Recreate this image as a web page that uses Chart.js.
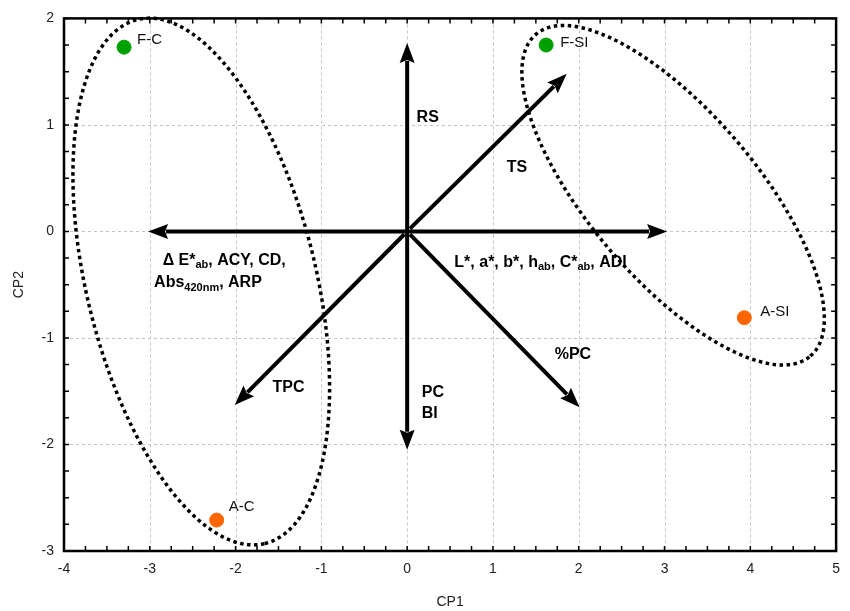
<!DOCTYPE html>
<html>
<head>
<meta charset="utf-8">
<script src="https://cdn.jsdelivr.net/npm/chart.js@4/dist/chart.umd.min.js"></script>
<style>
  html, body { margin: 0; padding: 0; background: #fff; }
  #wrap { width: 850px; height: 611px; }
</style>
</head>
<body>
<div id="wrap"><canvas id="pca"></canvas></div>
<script>
// sample scores on CP1 / CP2
var sampleNames = ['F-C', 'F-SI', 'A-SI', 'A-C'];
var cp1Scores = [-3.30, 1.62, 3.93, -2.22];
var cp2Scores = [1.73, 1.75, -0.81, -2.71];
var sampleColors = ['#00a000', '#00a000', '#ff6600', '#ff6600'];

// loading vectors (arrow tips, from the origin)
var loadCP1 = [0, 1.86, 3.03, 2.01, 0, -2.01, -3.02];
var loadCP2 = [1.77, 1.48, 0, -1.65, -2.05, -1.63, 0];

// axis ticks
var xTicks = [-4, -3, -2, -1, 0, 1, 2, 3, 4, 5];
var yTicks = [-3, -2, -1, 0, 1, 2];

// variable labels, placed in data units ([text, isSubscript])
var varLabels = [
  { x: 0.11, y: 1.07, parts: [['RS']] },
  { x: 1.16, y: 0.60, parts: [['TS']] },
  { x: -2.85, y: -0.27, parts: [['\u0394 E*'], ['ab', 1], [', ACY, CD,']] },
  { x: -2.95, y: -0.48, parts: [['Abs'], ['420nm', 1], [', ARP']] },
  { x: 0.55, y: -0.29, parts: [['L*, a*, b*, h'], ['ab', 1], [', C*'], ['ab', 1], [', ADI']] },
  { x: 1.72, y: -1.16, parts: [['%PC']] },
  { x: -1.57, y: -1.47, parts: [['TPC']] },
  { x: 0.17, y: -1.51, parts: [['PC']] },
  { x: 0.17, y: -1.71, parts: [['BI']] }
];

// group ellipses: centre and two semi-axis vectors, data units
var groupEllipses = [
  { cx: -2.40, cy: -0.47, ax: 0.74, ay: -2.46, bx: 1.30, by: 0.25 },
  { cx: 3.10, cy: 0.34, ax: 1.60, ay: -1.51, bx: 0.74, by: 0.51 }
];

var labelOffsets = [[13, -7], [14, -2], [16, -6], [12, -13]];

var plotPlugin = {
  id: 'pcaDecor',
  beforeDatasetsDraw: function(chart) {
    var ctx = chart.ctx, xs = chart.scales.x, ys = chart.scales.y;
    var a = chart.chartArea;
    ctx.save();
    // dashed grid
    ctx.strokeStyle = '#c4c4c4';
    ctx.lineWidth = 1;
    ctx.setLineDash([3, 3]);
    xTicks.forEach(function(v) {
      var px = Math.round(xs.getPixelForValue(v)) + 0.5;
      ctx.beginPath(); ctx.moveTo(px, a.top); ctx.lineTo(px, a.bottom); ctx.stroke();
    });
    yTicks.forEach(function(v) {
      var py = Math.round(ys.getPixelForValue(v)) + 0.5;
      ctx.beginPath(); ctx.moveTo(a.left, py); ctx.lineTo(a.right, py); ctx.stroke();
    });

    // dotted ellipses
    ctx.strokeStyle = '#000';
    ctx.lineWidth = 3.5;
    ctx.setLineDash([3.5, 3.5]);
    groupEllipses.forEach(function(e) {
      ctx.beginPath();
      for (var i = 0; i <= 360; i++) {
        var t = i * Math.PI / 180;
        var px = xs.getPixelForValue(e.cx + e.ax * Math.cos(t) + e.bx * Math.sin(t));
        var py = ys.getPixelForValue(e.cy + e.ay * Math.cos(t) + e.by * Math.sin(t));
        if (i === 0) ctx.moveTo(px, py); else ctx.lineTo(px, py);
      }
      ctx.stroke();
    });

    // loading arrows
    ctx.setLineDash([]);
    ctx.fillStyle = '#000';
    var ox = xs.getPixelForValue(0), oy = ys.getPixelForValue(0);
    for (var k = 0; k < loadCP1.length; k++) {
      var tx = xs.getPixelForValue(loadCP1[k]), ty = ys.getPixelForValue(loadCP2[k]);
      var ang = Math.atan2(ty - oy, tx - ox);
      var hl = 20, hw = 7.5;
      var gap = (loadCP1[k] !== 0 && loadCP2[k] !== 0) ? 4 : 0;
      var sx = ox + gap * Math.cos(ang), sy = oy + gap * Math.sin(ang);
      var bx = tx - hl * Math.cos(ang), by = ty - hl * Math.sin(ang);
      ctx.lineWidth = 4;
      ctx.beginPath(); ctx.moveTo(sx, sy); ctx.lineTo(bx + 2 * Math.cos(ang), by + 2 * Math.sin(ang)); ctx.stroke();
      ctx.beginPath();
      ctx.moveTo(tx, ty);
      ctx.lineTo(bx - hw * Math.sin(ang), by + hw * Math.cos(ang));
      ctx.lineTo(tx - (hl - 3) * Math.cos(ang), ty - (hl - 3) * Math.sin(ang));
      ctx.lineTo(bx + hw * Math.sin(ang), by - hw * Math.cos(ang));
      ctx.closePath();
      ctx.fill();
    }

    // variable labels
    ctx.textBaseline = 'middle';
    ctx.textAlign = 'left';
    varLabels.forEach(function(l) {
      var px = xs.getPixelForValue(l.x), py = ys.getPixelForValue(l.y);
      l.parts.forEach(function(p) {
        if (p[1]) {
          ctx.font = 'bold 11px "Liberation Sans", Arial, sans-serif';
          ctx.fillText(p[0], px, py + 5);
        } else {
          ctx.font = 'bold 16px "Liberation Sans", Arial, sans-serif';
          ctx.fillText(p[0], px, py);
        }
        px += ctx.measureText(p[0]).width;
      });
    });
    ctx.restore();
  },
  afterDatasetsDraw: function(chart) {
    var ctx = chart.ctx, xs = chart.scales.x, ys = chart.scales.y;
    ctx.save();
    ctx.fillStyle = '#111';
    ctx.font = '15px "Liberation Sans", Arial, sans-serif';
    ctx.textBaseline = 'middle';
    ctx.textAlign = 'left';
    for (var i = 0; i < sampleNames.length; i++) {
      ctx.fillText(sampleNames[i],
        xs.getPixelForValue(cp1Scores[i]) + labelOffsets[i][0],
        ys.getPixelForValue(cp2Scores[i]) + labelOffsets[i][1]);
    }
    ctx.restore();
  },
  afterDraw: function(chart) {
    var ctx = chart.ctx, xs = chart.scales.x, ys = chart.scales.y;
    var a = chart.chartArea;
    ctx.save();
    ctx.strokeStyle = '#000';
    ctx.lineWidth = 1.5;
    // inner ticks, every 0.25
    for (var v = -4; v <= 5.001; v += 0.25) {
      var px = xs.getPixelForValue(v);
      ctx.beginPath();
      ctx.moveTo(px, a.bottom); ctx.lineTo(px, a.bottom - 5);
      ctx.moveTo(px, a.top); ctx.lineTo(px, a.top + 5);
      ctx.stroke();
    }
    for (var w = -3; w <= 2.001; w += 0.25) {
      var py = ys.getPixelForValue(w);
      ctx.beginPath();
      ctx.moveTo(a.left, py); ctx.lineTo(a.left + 5, py);
      ctx.moveTo(a.right, py); ctx.lineTo(a.right - 5, py);
      ctx.stroke();
    }
    ctx.lineWidth = 2.5;
    ctx.strokeRect(a.left, a.top, a.right - a.left, a.bottom - a.top);
    ctx.restore();
  }
};

var tickFont = { family: '"Liberation Sans Narrow", "Liberation Sans", Arial, sans-serif', size: 14 };

new Chart(document.getElementById('pca'), {
  type: 'scatter',
  data: {
    datasets: [{
      label: 'samples',
      data: sampleNames.map(function(n, i) { return { x: cp1Scores[i], y: cp2Scores[i] }; }),
      pointBackgroundColor: sampleColors,
      pointBorderColor: sampleColors,
      pointRadius: 7,
      pointHoverRadius: 7
    }]
  },
  options: {
    responsive: true,
    maintainAspectRatio: false,
    animation: false,
    layout: { padding: { top: 18, right: 13, left: 0, bottom: 0 } },
    plugins: {
      legend: { display: false },
      tooltip: { enabled: false }
    },
    scales: {
      x: {
        type: 'linear',
        min: -4, max: 5,
        afterBuildTicks: function(s) { s.ticks = xTicks.map(function(v) { return { value: v }; }); },
        afterFit: function(s) { s.height = 60; },
        grid: { display: false, drawTicks: false },
        border: { display: false },
        ticks: { font: tickFont, color: '#222', padding: 10 },
        title: { display: true, text: 'CP1', font: tickFont, color: '#222', padding: { top: 8, bottom: 0 } }
      },
      y: {
        type: 'linear',
        min: -3, max: 2,
        afterBuildTicks: function(s) { s.ticks = yTicks.map(function(v) { return { value: v }; }); },
        afterFit: function(s) { s.width = 64; },
        grid: { display: false, drawTicks: false },
        border: { display: false },
        ticks: { font: tickFont, color: '#222', padding: 10 },
        title: { display: true, text: 'CP2', font: tickFont, color: '#222', padding: { top: 11, bottom: 4 } }
      }
    }
  },
  plugins: [plotPlugin]
});
</script>
</body>
</html>
